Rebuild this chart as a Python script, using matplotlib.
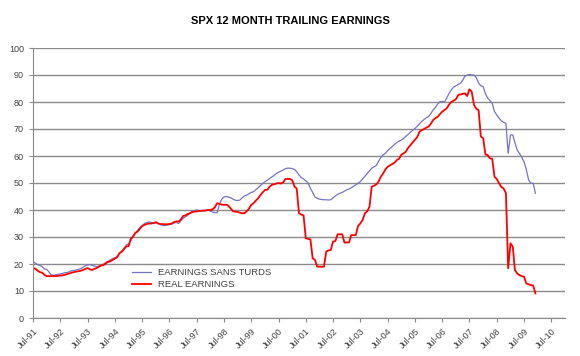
import matplotlib
matplotlib.use("Agg")
import matplotlib.pyplot as plt
import matplotlib.dates as mdates
import numpy as np
import pandas as pd

# monthly values, Jul-91 .. Dec-09
months = pd.date_range("1991-07-01", "2009-12-01", freq="MS")

sans_turds = [
    21.0, 20.3, 19.8, 19.5, 19.0, 18.2,                                 # 1991 Jul-Dec
    18.0, 17.0, 16.0, 15.8, 16.0, 16.2, 16.3, 16.5, 16.8, 16.8, 17.2, 17.5,  # 1992
    17.6, 17.8, 18.0, 18.3, 18.8, 19.3, 19.6, 19.8, 19.5, 19.2, 19.0, 19.3,  # 1993
    19.6, 20.0, 20.5, 21.0, 21.5, 22.0, 22.3, 22.8, 24.0, 24.8, 25.8, 27.0,  # 1994
    27.5, 28.8, 30.5, 31.5, 32.5, 33.5, 34.2, 35.0, 35.3, 35.6, 35.4, 35.0,  # 1995
    35.3, 35.0, 34.6, 34.3, 34.2, 34.4, 34.6, 34.8, 35.2, 35.4, 35.0, 36.0,  # 1996
    37.0, 37.5, 38.0, 38.8, 39.5, 39.8, 40.0, 39.8, 39.8, 39.6, 39.9, 40.0,  # 1997
    39.6, 39.2, 39.0, 39.0, 42.0, 44.0, 44.8, 45.0, 44.8, 44.5, 44.0, 43.6,  # 1998
    43.5, 43.7, 44.5, 45.2, 45.5, 46.0, 46.5, 46.8, 47.5, 48.2, 49.0, 49.8,  # 1999
    50.5, 51.0, 51.6, 52.2, 52.8, 53.5, 54.0, 54.4, 54.8, 55.3, 55.5, 55.5,  # 2000
    55.3, 55.0, 54.2, 53.0, 52.0, 51.5, 50.8, 50.0, 48.0, 46.5, 44.8, 44.3,  # 2001
    44.0, 43.9, 43.8, 43.8, 43.7, 43.8, 44.5, 45.2, 45.8, 46.2, 46.5, 47.0,  # 2002
    47.5, 47.8, 48.2, 48.8, 49.3, 49.9, 50.5, 51.5, 52.5, 53.5, 54.5, 55.5,  # 2003
    56.0, 56.5, 58.0, 59.5, 60.4, 61.0, 62.0, 62.8, 63.5, 64.3, 65.0, 65.5,  # 2004
    65.9, 66.5, 67.3, 68.0, 68.8, 69.5, 70.2, 71.0, 72.0, 72.8, 73.5, 74.2,  # 2005
    74.6, 75.8, 77.0, 78.0, 79.2, 80.1, 80.2, 80.0, 81.5, 83.2, 84.5, 85.5,  # 2006
    86.0, 86.5, 86.9, 88.0, 89.5, 90.0, 90.2, 90.0, 90.0, 89.0, 87.0, 86.0,  # 2007
    85.7, 83.0, 81.5, 80.5, 79.5, 76.5, 75.2, 74.0, 73.0, 72.5, 72.1, 61.0,  # 2008
    67.8, 67.8, 65.0, 62.2, 61.0, 59.5, 57.9, 55.0, 51.1, 49.9, 49.9, 46.2,  # 2009
]

real_earnings = [
    18.5, 18.3, 17.5, 17.0, 16.8, 16.0,                                 # 1991 Jul-Dec
    15.5, 15.5, 15.5, 15.6, 15.5, 15.6, 15.7, 15.8, 16.0, 16.3, 16.5, 16.8,  # 1992
    17.0, 17.2, 17.3, 17.5, 17.8, 18.2, 18.5, 18.0, 17.8, 18.2, 18.5, 19.0,  # 1993
    19.5, 19.6, 20.2, 20.8, 21.0, 21.5, 22.0, 22.5, 24.0, 24.5, 25.5, 26.5,  # 1994
    26.6, 29.5, 30.0, 31.5, 32.0, 33.0, 34.0, 34.5, 34.8, 35.0, 35.0, 35.2,  # 1995
    35.5, 35.0, 34.8, 34.8, 34.7, 34.7, 34.8, 35.0, 35.5, 35.8, 35.7, 36.5,  # 1996
    37.8, 38.0, 38.5, 38.8, 39.2, 39.4, 39.5, 39.6, 39.7, 39.8, 39.8, 40.0,  # 1997
    40.0, 40.3, 41.0, 42.5, 42.3, 42.0, 41.9, 42.0, 41.5, 40.5, 39.5, 39.4,  # 1998
    39.3, 39.0, 38.8, 38.8, 39.5, 40.5, 41.9, 42.5, 43.5, 44.3, 45.5, 46.5,  # 1999
    47.4, 47.5, 48.5, 49.3, 49.5, 49.8, 50.0, 49.8, 50.2, 51.5, 51.5, 51.5,  # 2000
    51.0, 48.6, 48.0, 38.8, 38.3, 38.0, 29.5, 29.3, 29.1, 22.1, 21.5, 19.0,  # 2001
    19.0, 19.0, 19.0, 24.6, 25.0, 25.2, 28.3, 28.5, 31.0, 31.0, 31.0, 27.9,  # 2002
    28.0, 28.0, 30.7, 30.7, 30.7, 34.1, 35.0, 36.3, 38.8, 39.5, 41.2, 48.6,  # 2003
    49.0, 49.5, 50.5, 52.3, 53.5, 55.0, 56.0, 56.5, 57.0, 57.5, 58.5, 59.0,  # 2004
    60.5, 61.0, 61.6, 63.0, 64.0, 65.0, 66.0, 67.0, 69.0, 69.6, 70.0, 70.5,  # 2005
    70.9, 72.0, 73.3, 74.0, 74.5, 75.5, 76.4, 77.0, 77.7, 79.0, 80.0, 80.5,  # 2006
    81.0, 82.6, 82.8, 83.0, 83.2, 82.2, 84.7, 83.8, 78.9, 77.5, 77.0, 67.2,  # 2007
    66.6, 60.5, 60.4, 59.1, 59.0, 52.3, 51.5, 49.9, 48.5, 48.0, 46.2, 18.4,  # 2008
    27.7, 26.4, 17.8, 16.5, 15.9, 15.5, 15.3, 12.8, 12.5, 12.2, 12.0, 9.1,   # 2009
]

tick_dates = pd.date_range("1991-07-01", "2010-07-01", freq="12MS")

plt.rcParams['font.family'] = ['Liberation Sans', 'DejaVu Sans']

fig = plt.figure(figsize=(5.8, 3.56), dpi=100)
ax = fig.add_axes([33 / 580, 1 - 318 / 356, 532 / 580, 270 / 356])

ax.plot(months, sans_turds, color='#7474c4', lw=0.9, label='EARNINGS SANS TURDS')
ax.plot(months, real_earnings, color='#ff0000', lw=1.3, label='REAL EARNINGS')

ax.set_ylim(0, 100)
ax.set_yticks(np.arange(0, 101, 10))
ax.set_xlim(pd.Timestamp("1991-07-01"), pd.Timestamp("2011-01-01"))
ax.set_xticks(tick_dates)
ax.xaxis.set_major_formatter(mdates.DateFormatter('%b-%y'))
plt.setp(ax.get_xticklabels(), rotation=45, ha='right', rotation_mode='anchor')

ax.grid(axis='y', color='#8a8a8a', lw=1.0)
ax.set_axisbelow(True)
for s in ['top', 'right']:
    ax.spines[s].set_visible(False)
for s in ['left', 'bottom']:
    ax.spines[s].set_color('#8a8a8a')
ax.tick_params(colors='#8a8a8a', labelcolor='#404040', labelsize=6.5, length=3, width=0.8)

ax.legend(loc='upper left', bbox_to_anchor=(0.17, 0.215), frameon=False,
          fontsize=6.8, handlelength=2.0, labelspacing=0.3, labelcolor='#404040')

fig.suptitle('SPX 12 MONTH TRAILING EARNINGS', x=0.5, y=0.955, fontsize=8, fontweight='bold')

fig.savefig('out.png', dpi=100)
